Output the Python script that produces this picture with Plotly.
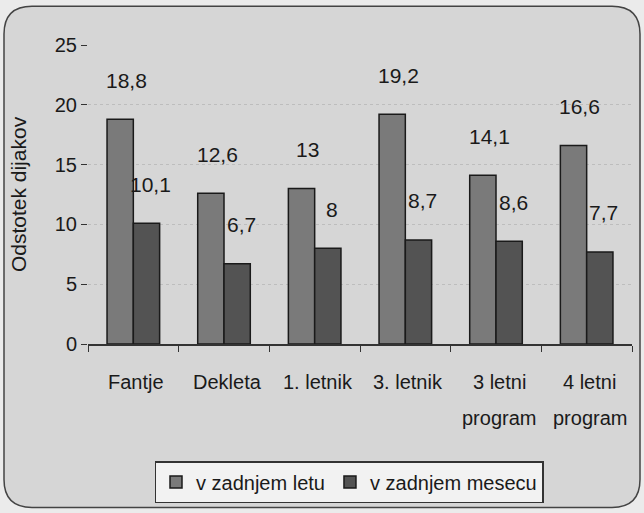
import plotly.graph_objects as go

categories = ["Fantje", "Dekleta", "1. letnik", "3. letnik", "3 letni<br>program", "4 letni<br>program"]
series_names = ["v zadnjem letu", "v zadnjem mesecu"]
v_letu = [18.8, 12.6, 13, 19.2, 14.1, 16.6]
v_mesecu = [10.1, 6.7, 8, 8.7, 8.6, 7.7]
y_ticks = [0, 5, 10, 15, 20, 25]
y_title = "Odstotek dijakov"

FONT = "Liberation Sans"
W, H = 644, 513
L, R, T, B = 88, 12, 45, 168
pw, ph = W - L - R, H - T - B

def px(x):
    return (x - L) / pw

def py(y):
    return (H - B - y) / ph

def fmt(v):
    s = ("%g" % v).replace(".", ",")
    return s

fig = go.Figure()
fig.add_trace(go.Bar(x=categories, y=v_letu, name=series_names[0],
                     marker=dict(color="#7a7a7a", line=dict(color="#1a1a1a", width=1.5))))
fig.add_trace(go.Bar(x=categories, y=v_mesecu, name=series_names[1],
                     marker=dict(color="#535353", line=dict(color="#1a1a1a", width=1.5))))

annotations = []
for vals, xs in ((v_letu, -7), (v_mesecu, 17)):
    for c, v in zip(categories, vals):
        annotations.append(dict(x=c, y=v, xref="x", yref="y", text=fmt(v), showarrow=False,
                                xshift=xs, yshift=39, yanchor="middle",
                                font=dict(family=FONT, size=21, color="#1a1a1a")))
for c in categories:
    parts = c.split("<br>")
    for i, p in enumerate(parts):
        annotations.append(dict(x=c, y=py(383 + 36 * i), xref="x", yref="paper", text=p,
                                showarrow=False, yanchor="middle", xshift=3,
                                font=dict(family=FONT, size=20, color="#1a1a1a")))

# rounded outer border
x0, x1, y0, y1 = 4, 640, 6, 509
r = 28
rx, ry = r / pw, r / ph
X0, X1, Y0, Y1 = px(x0), px(x1), py(y0), py(y1)
path = (f"M {X0+rx},{Y0} L {X1-rx},{Y0} Q {X1},{Y0} {X1},{Y0-ry} "
        f"L {X1},{Y1+ry} Q {X1},{Y1} {X1-rx},{Y1} L {X0+rx},{Y1} "
        f"Q {X0},{Y1} {X0},{Y1+ry} L {X0},{Y0-ry} Q {X0},{Y0} {X0+rx},{Y0} Z")

fig.update_layout(
    width=W, height=H,
    margin=dict(l=L, r=R, t=T, b=B),
    paper_bgcolor="#ebebeb",
    plot_bgcolor="#9c9c9c",
    barmode="group",
    bargap=0.42,
    bargroupgap=0,
    font=dict(family=FONT, size=19, color="#1a1a1a"),
    shapes=[dict(type="path", path=path, xref="paper", yref="paper",
                 fillcolor="#d6d6d6", line=dict(color="#444444", width=1.5), layer="below")],
    annotations=annotations,
    showlegend=True,
    legend=dict(orientation="h", x=px(349), xanchor="center", y=py(461), yanchor="top",
                bgcolor="#f2f2f2", bordercolor="#333333", borderwidth=1.5,
                font=dict(family=FONT, size=20, color="#1a1a1a"),
                itemwidth=30, tracegroupgap=0),
    xaxis=dict(showticklabels=False, ticks="outside", tickson="boundaries", ticklen=6,
               tickcolor="#333333", showline=True, linecolor="#333333", linewidth=1.5,
               showgrid=False, zeroline=False),
    yaxis=dict(range=[0, 25], tickvals=y_ticks, ticks="outside", ticklen=6, tickcolor="#333333",
               showline=False, showgrid=True, gridcolor="#bdbdbd", griddash="dot", gridwidth=1,
               zeroline=False, tickfont=dict(family=FONT, size=20, color="#1a1a1a"),
               title=dict(text=y_title, standoff=22, font=dict(family=FONT, size=21, color="#1a1a1a"))),
)

fig.write_html("out.html", config={"displayModeBar": False},
               post_script="document.body.style.margin='0';document.body.style.overflow='hidden';")
